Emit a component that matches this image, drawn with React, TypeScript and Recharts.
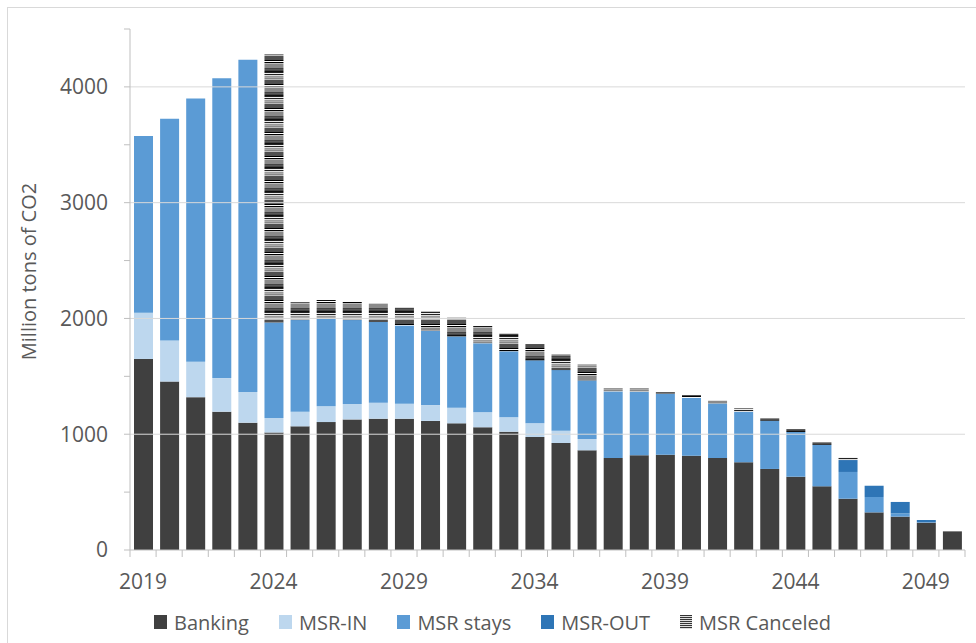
import React from 'react';
import { BarChart, Bar, XAxis, YAxis, Legend, ReferenceLine } from 'recharts';

const years = [
  2019, 2020, 2021, 2022, 2023, 2024, 2025, 2026, 2027, 2028, 2029, 2030, 2031, 2032, 2033, 2034,
  2035, 2036, 2037, 2038, 2039, 2040, 2041, 2042, 2043, 2044, 2045, 2046, 2047, 2048, 2049, 2050,
];
const banking = [
  1650, 1455, 1320, 1195, 1100, 1015, 1068, 1105, 1128, 1134, 1134, 1115, 1094, 1060, 1022, 976,
  924, 861, 794, 818, 823, 815, 794, 757, 700, 633, 550, 443, 325, 288, 236, 161,
];
const msrIn = [
  400, 355, 305, 290, 265, 125, 126, 136, 133, 138, 129, 137, 135, 129, 124, 118,
  106, 98, 0, 0, 0, 0, 0, 0, 0, 0, 0, 0, 0, 0, 0, 0,
];
const msrStays = [
  1525, 1915, 2275, 2590, 2870, 825, 792, 754, 725, 697, 677, 642, 616, 596, 570, 544,
  524, 506, 576, 549, 527, 500, 472, 437, 417, 386, 359, 231, 133, 29, 5, 0,
];
const msrOut = [
  0, 0, 0, 0, 0, 0, 0, 0, 0, 0, 0, 0, 0, 0, 0, 0,
  0, 0, 0, 0, 0, 0, 0, 0, 0, 0, 0, 103, 97, 98, 18, 0,
];
const msrCanceled = [
  0, 0, 0, 0, 0, 2320, 153, 164, 158, 161, 153, 164, 164, 149, 152, 141,
  136, 139, 29, 32, 14, 24, 23, 29, 20, 26, 21, 23, 0, 0, 0, 0,
];
const yTicks = [0, 500, 1000, 1500, 2000, 2500, 3000, 3500, 4000, 4500];
const gridValues = [1000, 2000, 3000, 4000];
const labelEvery = 5;

const seriesNames = ['Banking', 'MSR-IN', 'MSR stays', 'MSR-OUT', 'MSR Canceled'];

const data = years.map((y, i) => ({
  year: y,
  banking: banking[i],
  msrIn: msrIn[i],
  msrStays: msrStays[i],
  msrOut: msrOut[i],
  msrCanceled: msrCanceled[i],
}));

const W = 976;
const H = 643;
const MARGIN = { top: 29, right: 11, left: 0, bottom: 8 };
const YAXIS_W = 130;
const PLOT_W = W - MARGIN.left - MARGIN.right - YAXIS_W;
const FONT = '"Open Sans", "Noto Sans", sans-serif';
const TEXT = '#595959';
const AXIS = '#bfbfbf';

const COLORS = {
  banking: '#404040',
  msrIn: '#bdd7ee',
  msrStays: '#5b9bd5',
  msrOut: '#2e75b6',
};

const XTick = (props: any) => {
  const { x, y, payload } = props;
  const idx = payload.index;
  const bw = PLOT_W / years.length;
  return (
    <g>
      <line x1={x - bw / 2} x2={x - bw / 2} y1={y} y2={y + 7} stroke={AXIS} strokeWidth={1} />
      {idx === years.length - 1 && (
        <line x1={x + bw / 2} x2={x + bw / 2} y1={y} y2={y + 7} stroke={AXIS} strokeWidth={1} />
      )}
      {idx % labelEvery === 0 && (
        <text x={x} y={y + 39} textAnchor="middle" fill={TEXT} fontSize={21} fontFamily={FONT}>
          {payload.value}
        </text>
      )}
    </g>
  );
};

const YLabel = (props: any) => {
  const vb = props.viewBox || {};
  const cx = (vb.x || 0) + 28;
  const cy = (vb.y || 0) + (vb.height || 0) / 2 - 18;
  return (
    <text
      x={cx}
      y={cy}
      transform={`rotate(-90 ${cx} ${cy})`}
      textAnchor="middle"
      dominantBaseline="central"
      fill={TEXT}
      fontSize={20}
      fontFamily={FONT}
    >
      Million tons of CO2
    </text>
  );
};

const swatch = (key: string) => {
  if (key === 'msrCanceled') {
    return (
      <svg width={12} height={14} style={{ display: 'block' }}>
        <defs>
          <pattern id="legendStripe" width={12} height={2} patternUnits="userSpaceOnUse">
            <rect x={0} y={0} width={12} height={1} fill="#333" />
            <rect x={0} y={1} width={12} height={1} fill="#ddd" />
          </pattern>
        </defs>
        <rect x={0} y={0} width={12} height={14} fill="url(#legendStripe)" />
      </svg>
    );
  }
  return <div style={{ width: 13, height: 14, background: (COLORS as any)[key] }} />;
};

const legendKeys = ['banking', 'msrIn', 'msrStays', 'msrOut', 'msrCanceled'];

const LegendContent = () => (
  <div
    style={{
      height: 40,
      display: 'flex',
      alignItems: 'center',
      paddingLeft: 154,
      paddingTop: 14,
      fontFamily: FONT,
      fontSize: 20,
      color: TEXT,
      boxSizing: 'border-box',
    }}
  >
    {legendKeys.map((k, i) => (
      <div key={k} style={{ display: 'flex', alignItems: 'center', marginRight: 30 }}>
        {swatch(k)}
        <span style={{ marginLeft: 7, whiteSpace: 'nowrap' }}>{seriesNames[i]}</span>
      </div>
    ))}
  </div>
);

export default function App() {
  return (
    <div style={{ position: 'fixed', left: 0, top: 0, width: W, height: H, background: '#fff', overflow: 'hidden' }}>
      <div
        style={{
          position: 'absolute',
          left: 7,
          top: 7,
          width: W,
          height: H,
          borderLeft: '1px solid #d9d9d9',
          borderTop: '1px solid #d9d9d9',
        }}
      />
      <div style={{ position: 'absolute', left: 0, top: 0 }}>
        <BarChart width={W} height={H} data={data} margin={MARGIN} barSize={19}>
          <defs>
            <pattern id="canceledPattern" width={20} height={24} patternUnits="userSpaceOnUse">
              <rect x={0} y={0} width={20} height={1} fill="#222" />
              <rect x={0} y={1} width={20} height={1} fill="#eee" />
              <rect x={0} y={2} width={20} height={1} fill="#222" />
              <rect x={0} y={3} width={20} height={1} fill="#ddd" />
              <rect x={0} y={4} width={20} height={1} fill="#999" />
              <rect x={0} y={5} width={20} height={1} fill="#aaa" />
              <rect x={0} y={6} width={20} height={1} fill="#888" />
              <rect x={0} y={7} width={20} height={1} fill="#bbb" />
              <rect x={0} y={8} width={20} height={4} fill="#505050" />
              <rect x={0} y={12} width={20} height={1} fill="#000" />
              <rect x={0} y={13} width={20} height={1} fill="#fff" />
              <rect x={0} y={14} width={20} height={1} fill="#000" />
              <rect x={0} y={15} width={20} height={1} fill="#bbb" />
              <rect x={0} y={16} width={20} height={4} fill="#8a8a8a" />
              <rect x={0} y={20} width={20} height={1} fill="#444" />
              <rect x={0} y={21} width={20} height={1} fill="#5a5a5a" />
              <rect x={0} y={22} width={20} height={1} fill="#444" />
              <rect x={0} y={23} width={20} height={1} fill="#111" />
            </pattern>
          </defs>
          {gridValues.map((v) => (
            <ReferenceLine key={v} y={v} stroke="#d9d9d9" strokeWidth={1} ifOverflow="extendDomain" />
          ))}
          <XAxis
            dataKey="year"
            interval={0}
            tick={<XTick />}
            tickLine={false}
            tickSize={0}
            tickMargin={0}
            height={45}
            axisLine={{ stroke: AXIS, strokeWidth: 1 }}
          />
          <YAxis
            width={YAXIS_W}
            domain={[0, 4500]}
            ticks={yTicks}
            interval={0}
            tickFormatter={(v: number) => (v % 1000 === 0 ? String(v) : '')}
            tickSize={6}
            tickMargin={16}
            axisLine={{ stroke: AXIS, strokeWidth: 1 }}
            tickLine={{ stroke: AXIS, strokeWidth: 1 }}
            tick={{ fill: TEXT, fontSize: 21, fontFamily: FONT }}
            label={<YLabel />}
          />
          <Legend verticalAlign="bottom" content={<LegendContent />} />
          <Bar dataKey="banking" name="Banking" stackId="a" fill={COLORS.banking} isAnimationActive={false} />
          <Bar dataKey="msrIn" name="MSR-IN" stackId="a" fill={COLORS.msrIn} isAnimationActive={false} />
          <Bar dataKey="msrStays" name="MSR stays" stackId="a" fill={COLORS.msrStays} isAnimationActive={false} />
          <Bar dataKey="msrOut" name="MSR-OUT" stackId="a" fill={COLORS.msrOut} isAnimationActive={false} />
          <Bar dataKey="msrCanceled" name="MSR Canceled" stackId="a" fill="url(#canceledPattern)" isAnimationActive={false} />
        </BarChart>
      </div>
    </div>
  );
}
